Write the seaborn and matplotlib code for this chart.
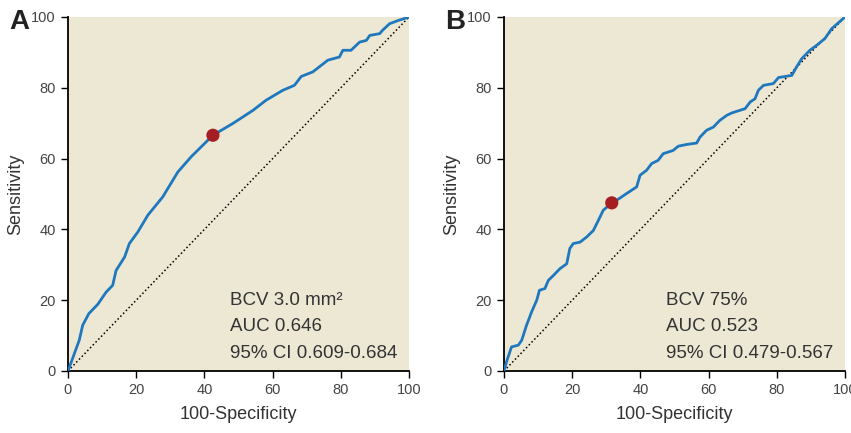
import matplotlib
matplotlib.use("Agg")
import matplotlib.pyplot as plt
import seaborn as sns
import pandas as pd

# Panel A: BCV 3.0 mm2
a_fpr = [0, 3.3, 4.3, 6.1, 8.7, 11.2, 13.1, 14.1, 16.6, 18.0, 20.5, 23.4, 27.8, 32.2, 36.1,
         42.5, 48.3, 54.2, 58.1, 63.0, 66.4, 68.4, 71.8, 76.2, 79.6, 80.6, 83.0, 85.5, 87.5,
         88.5, 91.4, 92.2, 94.3, 96.8, 100]
a_sens = [0, 8.7, 12.9, 16.2, 18.8, 22.3, 24.2, 28.4, 32.2, 36.0, 39.3, 44.0, 49.2, 56.2, 60.5,
          66.6, 69.9, 73.6, 76.5, 79.3, 80.7, 83.2, 84.5, 87.8, 88.7, 90.6, 90.6, 92.9, 93.4,
          94.8, 95.3, 96.2, 98.1, 99.0, 100]
a_cut = (42.5, 66.6)
a_text = ["BCV 3.0 mm\u00b2", "AUC 0.646", "95% CI 0.609-0.684"]

# Panel B: BCV 75%
b_fpr = [0, 0.8, 2.2, 4.2, 5.2, 6.6, 8.1, 9.6, 10.4, 12.0, 13.0, 14.5, 16.4, 18.4, 19.3, 20.3,
         22.3, 24.3, 26.2, 27.7, 29.1, 31.6, 33.0, 35.9, 38.9, 39.9, 41.8, 43.3, 45.2, 46.7,
         49.6, 51.1, 53.6, 56.5, 57.5, 59.4, 61.4, 63.3, 65.3, 66.8, 70.7, 72.2, 73.6, 74.6,
         76.1, 79.0, 80.5, 84.4, 85.8, 87.3, 89.7, 91.7, 94.1, 96.1, 100]
b_sens = [0, 2.8, 6.8, 7.3, 8.7, 12.9, 16.7, 20.0, 22.8, 23.3, 25.6, 27.0, 28.9, 30.3, 34.6, 36.0,
          36.4, 37.9, 39.7, 42.6, 45.4, 47.5, 48.2, 50.1, 52.0, 55.3, 56.7, 58.6, 59.5, 61.4,
          62.3, 63.5, 64.0, 64.4, 66.1, 68.0, 68.9, 70.8, 72.2, 72.9, 74.1, 76.0, 76.9, 79.3,
          80.7, 81.2, 82.9, 83.5, 85.9, 88.2, 90.6, 92.0, 93.9, 96.7, 100]
b_cut = (31.6, 47.5)
b_text = ["BCV 75%", "AUC 0.523", "95% CI 0.479-0.567"]

ticks = [0, 20, 40, 60, 80, 100]
panel_labels = ["A", "B"]

sns.set_style("ticks")
plt.rcParams['font.family'] = ['Liberation Sans', 'DejaVu Sans']

BG = "#ece8d4"
BLUE = "#1f78be"
RED = "#a51e22"
TXT = "#333333"

fig = plt.figure(figsize=(8.51, 4.33), dpi=100)
axA = fig.add_axes([68/851, 1-371/433, 341/851, 354/433])
axB = fig.add_axes([504/851, 1-371/433, 341/851, 354/433])

panels = [(axA, a_fpr, a_sens, a_cut, a_text), (axB, b_fpr, b_sens, b_cut, b_text)]
for i, (ax, fx, sy, cut, txt) in enumerate(panels):
    ax.set_facecolor(BG)
    df = pd.DataFrame({"fpr": fx, "sens": sy})
    ax.plot([0, 100], [0, 100], color="black", linestyle=(0, (1, 1.6)), linewidth=1.1, zorder=2)
    sns.lineplot(data=df, x="fpr", y="sens", ax=ax, color=BLUE, linewidth=2.0,
                 sort=False, estimator=None, zorder=3)
    sns.scatterplot(x=[cut[0]], y=[cut[1]], ax=ax, color=RED, s=90, edgecolor="none", zorder=4)
    ax.set_xlim(0, 100)
    ax.set_ylim(0, 100)
    ax.set_xticks(ticks)
    ax.set_yticks(ticks)
    ax.set_xticklabels([str(t) for t in ticks])
    ax.set_yticklabels([str(t) for t in ticks])
    for s in ["top", "right"]:
        ax.spines[s].set_visible(False)
    for s in ["left", "bottom"]:
        ax.spines[s].set_color("black")
        ax.spines[s].set_linewidth(1.3)
    ax.tick_params(direction="out", length=5, width=1.0, color="black",
                   labelsize=10.5, labelcolor="#444444", pad=4)
    ax.set_xlabel("100-Specificity", fontsize=13, color=TXT, labelpad=6)
    ax.set_ylabel("Sensitivity", fontsize=13, color=TXT, labelpad=5)
    for j, t in enumerate(txt):
        ax.text(47.5, 20 - j * 7.5, t, fontsize=13.5, color=TXT, va="center", ha="left")
    fig.text((ax.get_position().x0 * 851 - 59) / 851, 1 - 22 / 433, panel_labels[i],
             fontsize=20, fontweight="bold", color="#222222", ha="left", va="center")

fig.savefig("out.png", dpi=100)
